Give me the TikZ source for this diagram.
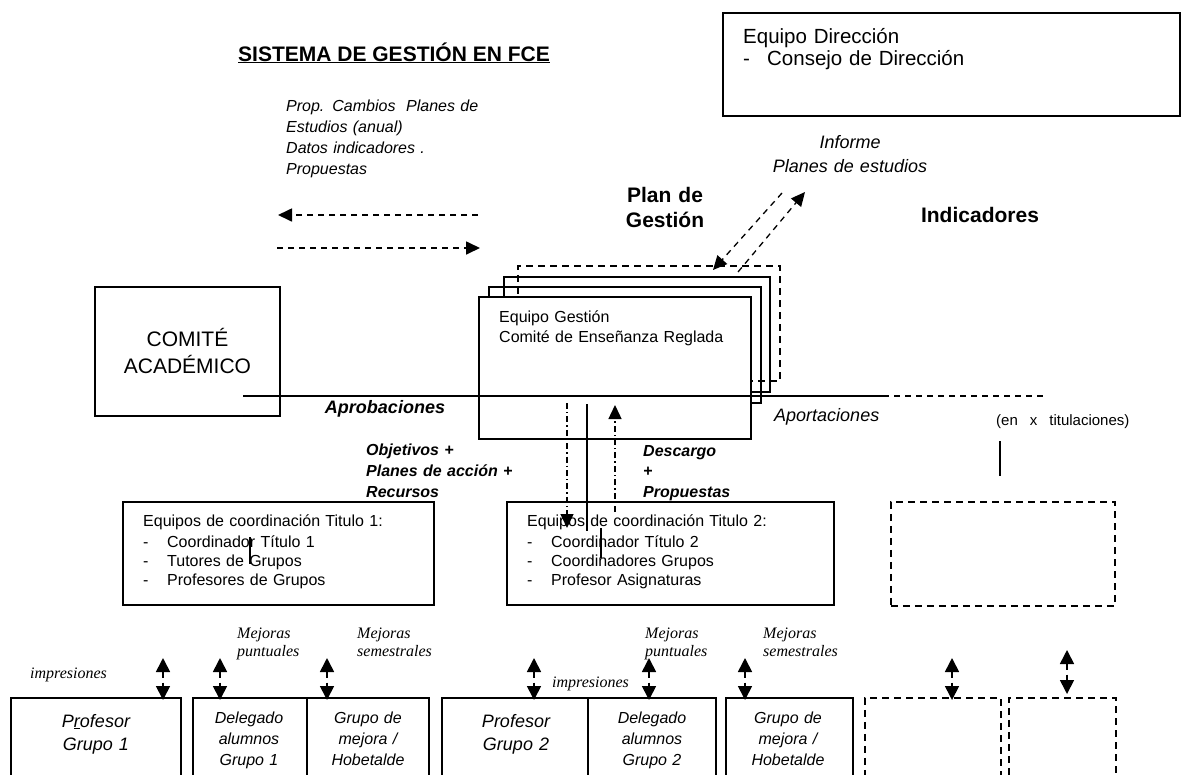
\documentclass[tikz,border=0pt]{standalone}
\usepackage{fontspec}
\setmainfont{Liberation Sans}
\newfontfamily\timesfont{Liberation Serif}
\usetikzlibrary{arrows.meta}

\newcommand{\setfs}[2]{\fontsize{#1}{#2}\selectfont}
\newcommand{\guion}{\makebox[24pt][l]{-}}

\tikzset{
  box/.style={draw, line width=1.9pt, inner sep=0pt, anchor=north west},
  dbox/.style={box, line width=1.7pt, dash pattern=on 7pt off 5pt},
  txt/.style={inner sep=0pt, anchor=base west, align=left, text width=320pt},
  ctxt/.style={inner sep=0pt, anchor=base, align=center, text width=160pt},
  dline/.style={line width=1.7pt, dash pattern=on 6pt off 5pt},
  dotline/.style={line width=1.4pt, dash pattern=on 6pt off 3pt on 1.4pt off 3pt},
  arr/.style={-{Triangle[length=14pt,width=13pt]}},
  twoway/.style={dline, {Triangle[length=14pt,width=14pt]}-{Triangle[length=14pt,width=14pt]}},
  serifit/.style={txt, font={\timesfont\setfs{16}{18}\itshape}},
}

\begin{document}
\begin{tikzpicture}[x=1pt, y=-1pt]
\useasboundingbox (0,0) rectangle (1182,774);
\clip (0,0) rectangle (1182,774);

% cabecera
\node[anchor=base, inner sep=0pt, font={\setfs{21}{25}\bfseries}] (titulo) at (394,61) {\underline{SISTEMA DE GESTIÓN EN FCE}};
\node[txt, font={\setfs{16}{21}\itshape}] (propuestas) at (286,111) {Prop. Cambios\ \ Planes de\\Estudios (anual)\\Datos indicadores .\\Propuestas};

\node[box, minimum width=457pt, minimum height=103pt] (direccion) at (722,12) {};
\node[txt, font={\setfs{20.5}{22}}] (direccionTxt) at (743,43) {Equipo Dirección\\\guion Consejo de Dirección};

\node[ctxt, font={\setfs{18}{24}\itshape}] (informe) at (850,148) {Informe\\Planes de estudios};
\node[ctxt, font={\setfs{21}{25}\bfseries}] (plan) at (665,202) {Plan de\\Gestión};
\node[ctxt, font={\setfs{21}{25}\bfseries}] (indicadores) at (980,222) {Indicadores};

% comite academico
\node[box, minimum width=185pt, minimum height=129pt, align=center, font={\setfs{21}{27}}] (comite) at (94,286) {COMITÉ\\ACADÉMICO};

% equipo gestion (apilado)
\node[dbox, minimum width=262pt, minimum height=115pt] (gest4) at (517,265) {};
\node[box, minimum width=266pt, minimum height=115pt] (gest3) at (503,276) {};
\node[box, minimum width=272pt, minimum height=116pt] (gest2) at (488,286) {};
\node[box, fill=white, minimum width=272pt, minimum height=142pt] (gest1) at (478,296) {};
\node[txt, font={\setfs{16}{20}}] (gestTxt) at (499,322) {Equipo Gestión\\Comité de Enseñanza Reglada};

% equipos de coordinacion
\node[box, minimum width=311pt, minimum height=103pt] (coord1) at (122,501) {};
\node[txt, font={\setfs{16}{19}}] (coord1Txt) at (143,526) {Equipos de coordinación Titulo 1:\\[2pt]\guion Coordinador Título 1\\\guion Tutores de Grupos\\\guion Profesores de Grupos};
\node[box, minimum width=327pt, minimum height=103pt] (coord2) at (506,501) {};
\node[txt, font={\setfs{16}{19}}] (coord2Txt) at (527,526) {Equipos de coordinación Titulo 2:\\[2pt]\guion Coordinador Título 2\\\guion Coordinadores Grupos\\\guion Profesor Asignaturas};
\node[dbox, minimum width=224pt, minimum height=104pt] (coordx) at (890,501) {};

% etiquetas de flujos
\node[anchor=base, inner sep=0pt, font={\setfs{18}{22}\bfseries\itshape}] (aprobaciones) at (385,413) {Aprobaciones};
\node[txt, font={\setfs{18}{22}\itshape}] (aportaciones) at (774,421) {Aportaciones};
\node[txt, font={\setfs{15}{18}}] (titulaciones) at (996,425) {(en\hspace{12pt}x\hspace{12pt}titulaciones)};
\node[txt, font={\setfs{16}{21}\bfseries\itshape}] (objetivos) at (366,455) {Objetivos +\\Planes de acción +\\Recursos};
\node[txt, font={\setfs{16}{20.5}\bfseries\itshape}] (descargo) at (643,456) {Descargo\\+\\Propuestas};

% fila inferior
\node[box, minimum width=170pt, minimum height=100pt] (prof1) at (10,697) {};
\node[box, minimum width=114pt, minimum height=100pt] (dele1) at (192,697) {};
\node[box, minimum width=122pt, minimum height=100pt] (mejo1) at (306,697) {};
\node[box, minimum width=146pt, minimum height=100pt] (prof2) at (441,697) {};
\node[box, minimum width=128pt, minimum height=100pt] (dele2) at (587,697) {};
\node[box, minimum width=127pt, minimum height=100pt] (mejo2) at (725,697) {};
\node[dbox, minimum width=136pt, minimum height=100pt] (otro1) at (864,697) {};
\node[dbox, minimum width=107pt, minimum height=100pt] (otro2) at (1008,697) {};

\node[ctxt, font={\setfs{18}{23}\itshape}] (prof1Txt) at (96,727) {P\underline{r}ofesor\\Grupo 1};
\node[ctxt, font={\setfs{16}{21}\itshape}] (dele1Txt) at (249,723) {Delegado\\alumnos\\Grupo 1};
\node[ctxt, font={\setfs{16}{21}\itshape}] (mejo1Txt) at (368,723) {Grupo de\\mejora /\\Hobetalde};
\node[ctxt, font={\setfs{18}{23}\itshape}] (prof2Txt) at (516,727) {Profesor\\Grupo 2};
\node[ctxt, font={\setfs{16}{21}\itshape}] (dele2Txt) at (652,723) {Delegado\\alumnos\\Grupo 2};
\node[ctxt, font={\setfs{16}{21}\itshape}] (mejo2Txt) at (788,723) {Grupo de\\mejora /\\Hobetalde};

\node[serifit] (impr1) at (30,678) {impresiones};
\node[serifit] (impr2) at (552,687) {impresiones};
\node[serifit] (mejp1) at (237,638) {Mejoras\\puntuales};
\node[serifit] (mejs1) at (357,638) {Mejoras\\semestrales};
\node[serifit] (mejp2) at (645,638) {Mejoras\\puntuales};
\node[serifit] (mejs2) at (763,638) {Mejoras\\semestrales};

% extremos de los conectores
\coordinate (propA) at (478,215);
\coordinate (propB) at (278,215);
\coordinate (datA) at (277,248);
\coordinate (datB) at (480,248);
\coordinate (infA) at (782,193);
\coordinate (infB) at (713,270);
\coordinate (infC) at (738,272);
\coordinate (infD) at (805,192);
\coordinate (aprA) at (243,396);
\coordinate (aprB) at (883,396);
\coordinate (aprC) at (1045,396);
\coordinate (objA) at (567,403);
\coordinate (objB) at (567,528);
\coordinate (desA) at (615,512);
\coordinate (desB) at (615,405);

\draw[dline, arr] (propA) -- (propB);
\draw[dline, arr] (datA) -- (datB);
\draw[dline, line width=1.3pt, arr] (infA) -- (infB);
\draw[dline, line width=1.3pt, arr] (infC) -- (infD);

\draw[line width=1.9pt] (aprA) -- (aprB);
\draw[dline] (aprB) -- (aprC);

\draw[dotline, arr] (objA) -- (objB);
\draw[dotline, arr] (desA) -- (desB);
\draw[line width=1.7pt] (587,404) -- (587,531);
\draw[line width=1.7pt] (601,528) -- (601,558);
\draw[line width=1.7pt] (250,537) -- (250,564);
\draw[line width=1.7pt] (1000,441) -- (1000,476);

\foreach \x in {163,220,327,534,649,745,952}
  \draw[twoway] (\x,658) -- (\x,700);
\draw[twoway] (1067,650) -- (1067,694);
\end{tikzpicture}
\end{document}
